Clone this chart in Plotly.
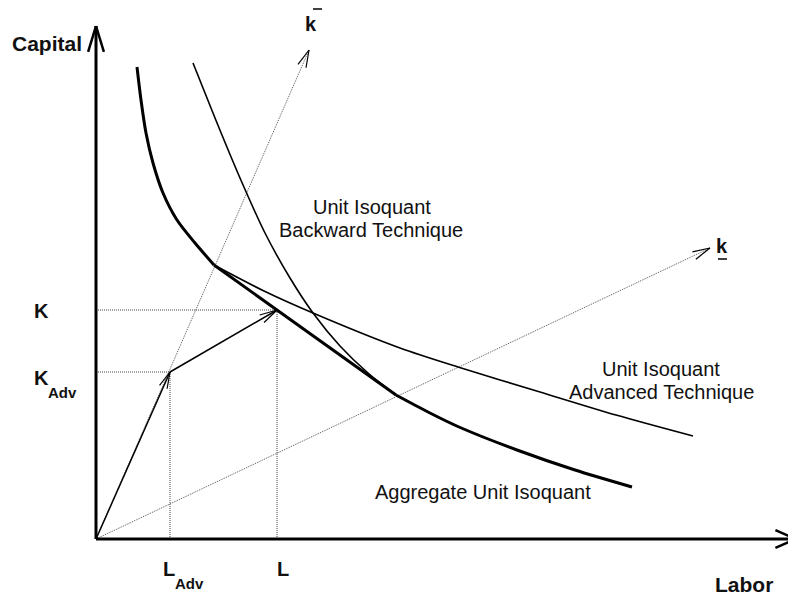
import math
import plotly.graph_objects as go

# ---- diagram data (Labor on x, Capital on y; arbitrary units) ----
# Advanced technique isoquant: part belonging to aggregate (thick) and the rest (thin)
adv_thick_L = [4.1, 4.5, 5.0, 5.7, 6.7, 8.1, 9.9, 11.8]
adv_thick_K = [47.2, 43.9, 40.6, 37.6, 34.6, 31.9, 29.6, 27.4]
adv_thin_L = [11.8, 16.8, 21.7, 30.4, 36.2, 44.4, 52.0, 59.7]
adv_thin_K = [27.4, 24.8, 22.6, 19.1, 17.2, 14.7, 12.4, 10.3]

# Backward technique isoquant: thin part above tangency, thick part below
bwd_thin_L = [9.7, 11.9, 14.4, 16.9, 19.4, 21.7, 24.4, 27.2, 30.0]
bwd_thin_K = [47.6, 42.1, 36.1, 30.6, 26.1, 22.6, 19.3, 16.6, 14.4]
bwd_thick_L = [30.0, 33.2, 36.3, 42.1, 47.9, 53.6]
bwd_thick_K = [14.4, 12.7, 11.2, 8.9, 6.9, 5.2]

# Linear segment of the aggregate isoquant (between tangency points)
seg_L = [11.8, 30.0]
seg_K = [27.4, 14.4]

# Rays k-bar and k-underline (from origin to arrow tip)
kbar_tip = (21.3, 48.9)
kund_tip = (61.4, 29.1)

# Factor points
L_adv, K_adv = 7.4, 16.7
L_tot, K_tot = 18.1, 22.9

# Axes extents
x_axis_end = 69.95
y_axis_end = 51.3

INK = "#000000"
DOT = "#444444"
FONT = "Liberation Sans, Arial, sans-serif"

fig = go.Figure()


def add_line(xs, ys, width, color=INK, dash="solid", smooth=False):
    fig.add_trace(go.Scatter(
        x=xs, y=ys, mode="lines",
        line=dict(color=color, width=width, dash=dash,
                  shape="spline" if smooth else "linear", smoothing=0.8),
        hoverinfo="skip", showlegend=False))


def add_head(tip, origin, length, half_deg, width, color=INK):
    dx, dy = tip[0] - origin[0], tip[1] - origin[1]
    n = math.hypot(dx, dy)
    ux, uy = -dx / n, -dy / n
    pts_x, pts_y = [], []
    for s in (1, -1):
        a = math.radians(half_deg) * s
        wx = ux * math.cos(a) - uy * math.sin(a)
        wy = ux * math.sin(a) + uy * math.cos(a)
        pts_x += [tip[0] + wx * length, tip[0], None]
        pts_y += [tip[1] + wy * length, tip[1], None]
    fig.add_trace(go.Scatter(x=pts_x, y=pts_y, mode="lines",
                             line=dict(color=color, width=width),
                             hoverinfo="skip", showlegend=False))


# dotted guide lines
add_line([L_adv, L_adv], [0, K_adv], 1, DOT, "1px,1px")
add_line([0, L_adv], [K_adv, K_adv], 1, DOT, "1px,1px")
add_line([L_tot, L_tot], [0, K_tot], 1, DOT, "1px,1px")
add_line([0, L_tot], [K_tot, K_tot], 1, DOT, "1px,1px")

# rays
add_line([0, kbar_tip[0]], [0, kbar_tip[1]], 1, "#555555", "1px,1px")
add_head(kbar_tip, (0, 0), 1.8, 14, 1.2)
add_line([0, kund_tip[0]], [0, kund_tip[1]], 1, "#555555", "1px,1px")
add_head(kund_tip, (0, 0), 1.8, 13, 1.2)

# isoquants
add_line(adv_thin_L, adv_thin_K, 1.6, smooth=True)
add_line(bwd_thin_L, bwd_thin_K, 1.6, smooth=True)
add_line(adv_thick_L, adv_thick_K, 3, smooth=True)
add_line(seg_L, seg_K, 3)
add_line(bwd_thick_L, bwd_thick_K, 3, smooth=True)

# vector arrows
add_line([0, L_adv], [0, K_adv], 1.5)
add_head((L_adv, K_adv), (0, 0), 1.7, 14, 1.2)
add_line([L_adv, L_tot], [K_adv, K_tot], 1.5)
add_head((L_tot, K_tot), (L_adv, K_adv), 1.8, 14, 1.2)

# axes with open arrowheads
add_line([0, 0], [0, y_axis_end], 3)
add_head((0, y_axis_end), (0, 0), 2.7, 17, 2.5)
add_line([0, x_axis_end], [0, 0], 3)
add_head((x_axis_end, 0), (0, 0), 2.2, 24, 2.5)

# k-bar overline and k underline marks
add_line([21.7, 22.6], [53.0, 53.0], 1.5)
add_line([62.2, 63.1], [28.0, 28.0], 1.5)

# ---- text ----
labels = [
    ("<b>Capital</b>", -4.9, 49.6, 21),
    ("<b>Labor</b>", 64.8, -4.55, 21),
    ("<b>K</b>", -5.45, 22.8, 20),
    ("<b>K</b>", -5.45, 16.1, 20),
    ("<b>Adv</b>", -3.35, 14.63, 15),
    ("<b>L</b>", 7.3, -3.0, 20),
    ("<b>Adv</b>", 9.35, -4.47, 15),
    ("<b>L</b>", 18.65, -3.0, 20),
    ("<b>k</b>", 21.5, 51.55, 20),
    ("<b>k</b>", 62.55, 29.3, 20),
    ("Unit Isoquant", 27.55, 33.17, 20),
    ("Backward Technique", 27.5, 30.87, 20),
    ("Unit Isoquant", 56.5, 16.98, 20),
    ("Advanced Technique", 56.5, 14.68, 20),
    ("Aggregate Unit Isoquant", 38.65, 4.68, 20),
]
for txt, x, y, fs in labels:
    fig.add_annotation(x=x, y=y, text=txt, showarrow=False,
                       xanchor="center", yanchor="middle",
                       font=dict(family=FONT, size=fs, color="#111111"))

# page body has an 8px margin, so the figure is 788x591 and its ranges start 8px in
fig.update_layout(
    width=788, height=591,
    margin=dict(l=0, r=0, t=0, b=0),
    paper_bgcolor="white", plot_bgcolor="white",
    xaxis=dict(range=[-8.8, 70.0], visible=False, fixedrange=True),
    yaxis=dict(range=[-6.0, 53.1], visible=False, fixedrange=True),
)

fig.write_html("out.html")
